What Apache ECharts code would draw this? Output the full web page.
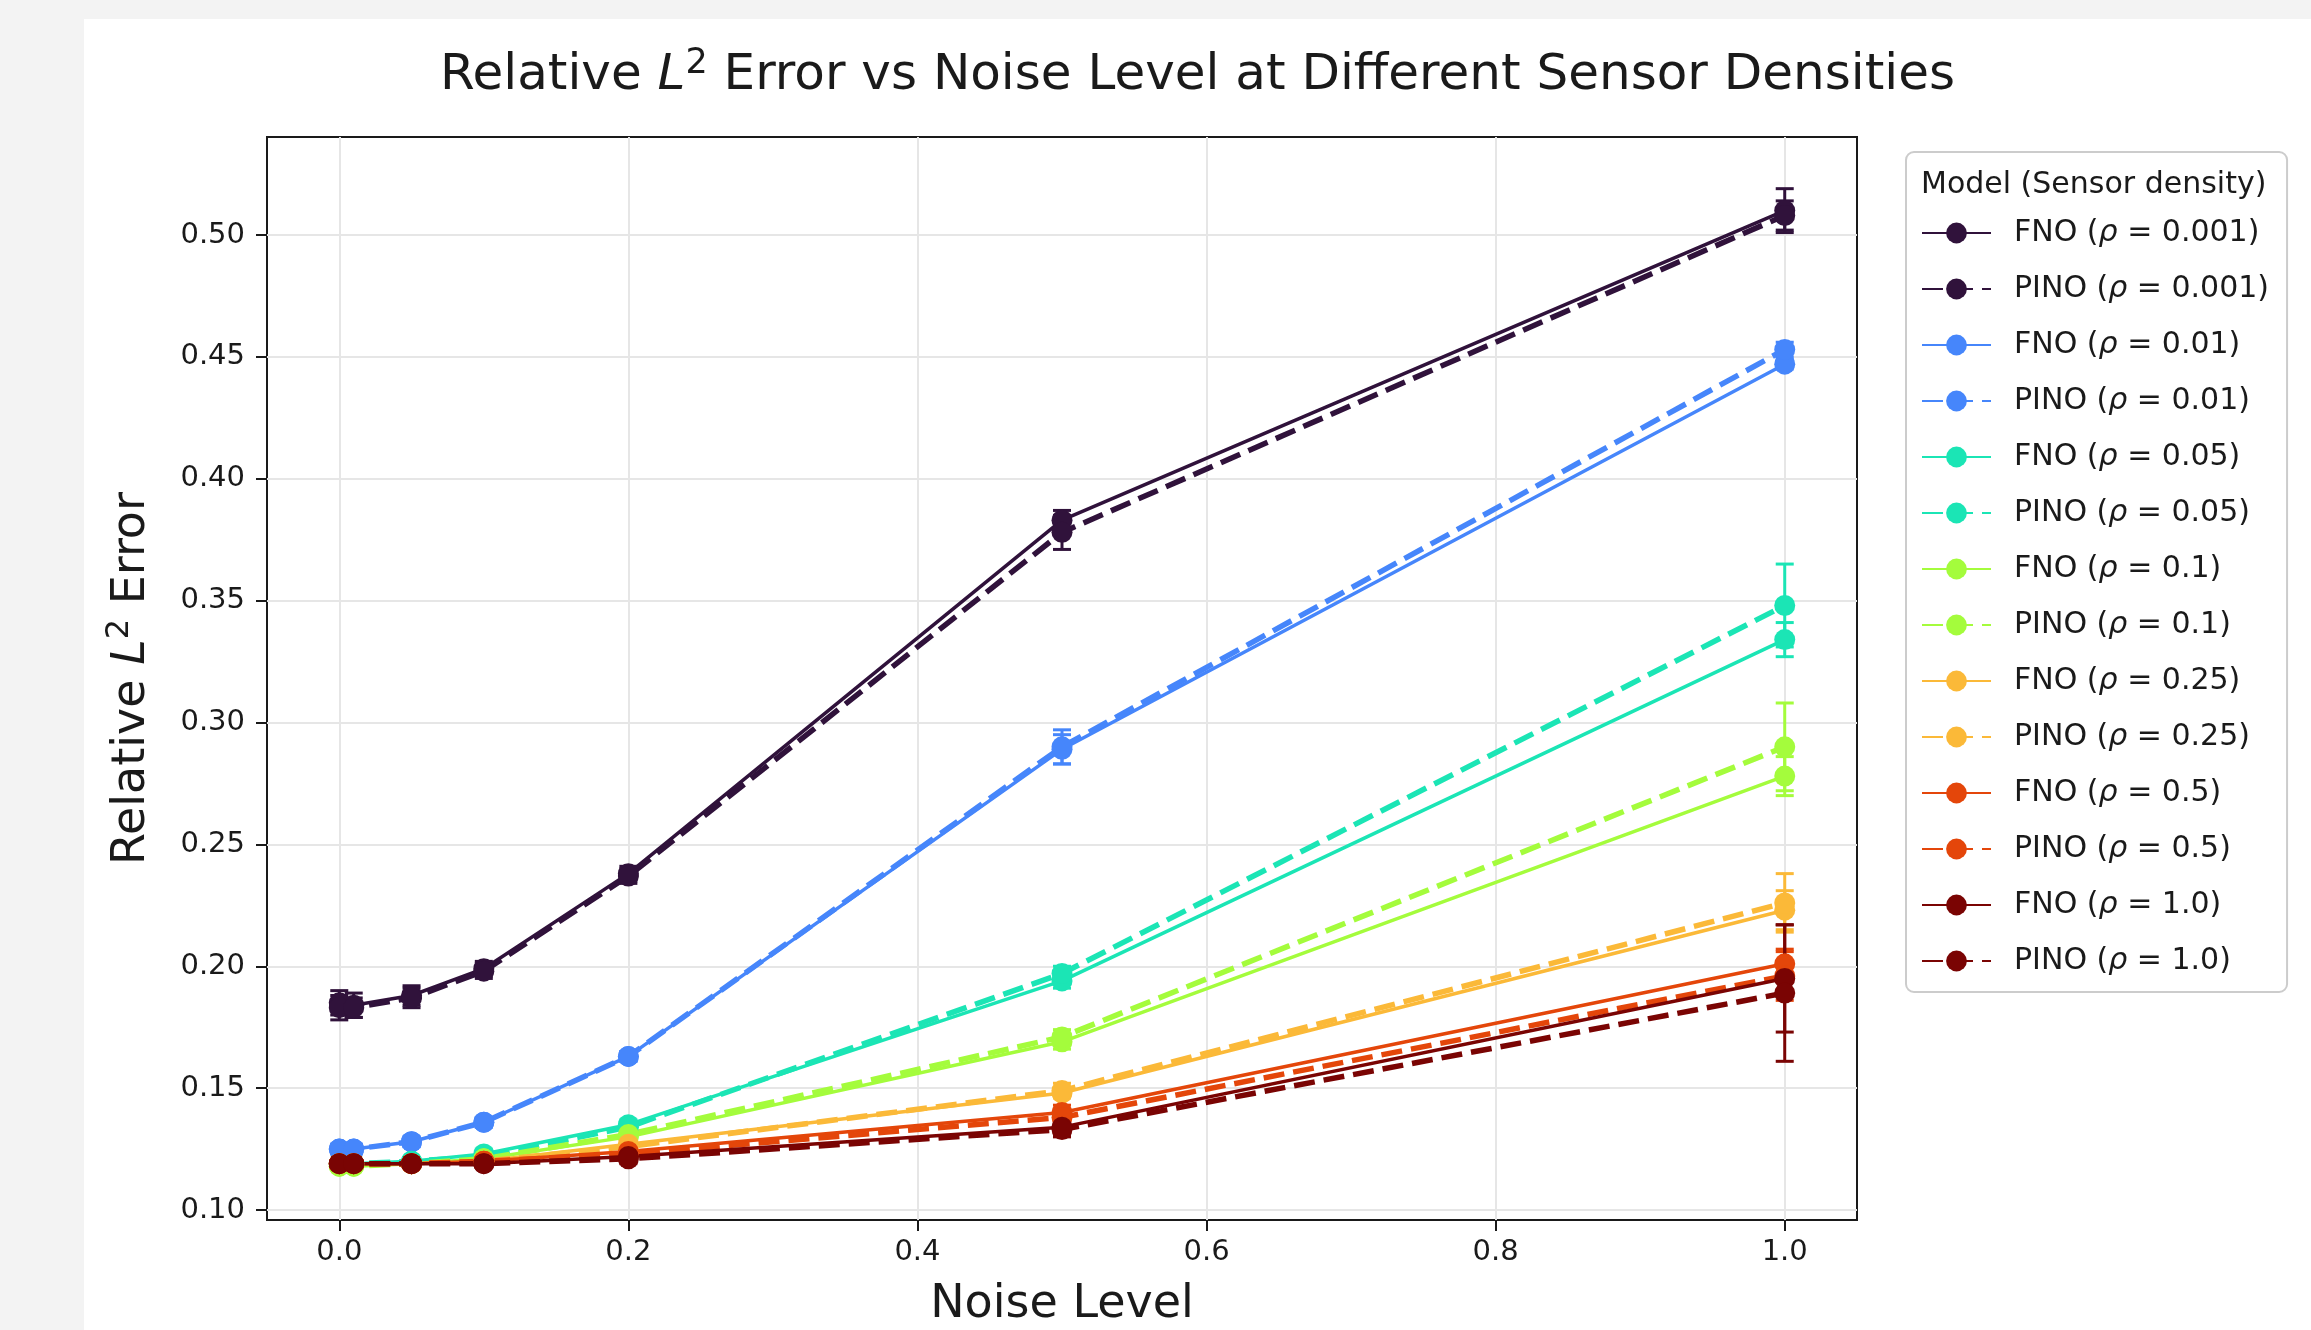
<!DOCTYPE html>
<html>
<head>
<meta charset="utf-8">
<script src="https://cdn.jsdelivr.net/npm/echarts@6/dist/echarts.min.js"></script>
<style>
  html, body { margin: 0; padding: 0; background: #f3f3f3; }
  #main { position: absolute; left: 84px; top: 19px; width: 2227px; height: 1311px; background: #fff; }
</style>
</head>
<body>
<div id="main"></div>
<script>
// noise levels on x axis
const noise = [0.0, 0.01, 0.05, 0.1, 0.2, 0.5, 1.0];
const densities = ['0.001', '0.01', '0.05', '0.1', '0.25', '0.5', '1.0'];
const colors = ['#30123b', '#4686fb', '#1be5b5', '#a4fc3c', '#fbb938', '#e4460a', '#7a0403'];
const xTicks = [0.0, 0.2, 0.4, 0.6, 0.8, 1.0];
const yTicks = [0.10, 0.15, 0.20, 0.25, 0.30, 0.35, 0.40, 0.45, 0.50];

// mean relative L2 error
const fno_0001  = [0.185, 0.184, 0.188, 0.199, 0.238, 0.383, 0.510];
const pino_0001 = [0.183, 0.183, 0.187, 0.198, 0.237, 0.378, 0.508];
const fno_001   = [0.125, 0.125, 0.128, 0.136, 0.163, 0.289, 0.447];
const pino_001  = [0.125, 0.125, 0.128, 0.136, 0.163, 0.290, 0.453];
const fno_005   = [0.119, 0.119, 0.120, 0.123, 0.135, 0.194, 0.334];
const pino_005  = [0.119, 0.119, 0.120, 0.122, 0.134, 0.197, 0.348];
const fno_01    = [0.118, 0.118, 0.119, 0.121, 0.130, 0.169, 0.278];
const pino_01   = [0.118, 0.118, 0.119, 0.121, 0.131, 0.171, 0.290];
const fno_025   = [0.119, 0.119, 0.119, 0.120, 0.127, 0.148, 0.223];
const pino_025  = [0.119, 0.119, 0.119, 0.120, 0.126, 0.149, 0.226];
const fno_05    = [0.119, 0.119, 0.119, 0.120, 0.124, 0.140, 0.201];
const pino_05   = [0.119, 0.119, 0.119, 0.120, 0.123, 0.138, 0.196];
const fno_10    = [0.119, 0.119, 0.119, 0.119, 0.122, 0.134, 0.195];
const pino_10   = [0.119, 0.119, 0.119, 0.119, 0.121, 0.133, 0.189];

// std (error bars)
const fnoErr_0001  = [0.005, 0.005, 0.004, 0.003, 0.003, 0.004, 0.009];
const pinoErr_0001 = [0.005, 0.004, 0.004, 0.003, 0.003, 0.007, 0.006];
const fnoErr_001   = [0.002, 0.002, 0.002, 0.002, 0.002, 0.006, 0.002];
const pinoErr_001  = [0.002, 0.002, 0.002, 0.002, 0.002, 0.007, 0.003];
const fnoErr_005   = [0.001, 0.001, 0.001, 0.002, 0.002, 0.003, 0.007];
const pinoErr_005  = [0.001, 0.001, 0.001, 0.002, 0.002, 0.003, 0.017];
const fnoErr_01    = [0.001, 0.001, 0.001, 0.002, 0.002, 0.003, 0.008];
const pinoErr_01   = [0.001, 0.001, 0.001, 0.002, 0.002, 0.003, 0.018];
const fnoErr_025   = [0.001, 0.001, 0.001, 0.001, 0.002, 0.002, 0.008];
const pinoErr_025  = [0.001, 0.001, 0.001, 0.001, 0.002, 0.003, 0.012];
const fnoErr_05    = [0.001, 0.001, 0.001, 0.001, 0.002, 0.003, 0.006];
const pinoErr_05   = [0.001, 0.001, 0.001, 0.001, 0.002, 0.003, 0.010];
const fnoErr_10    = [0.001, 0.001, 0.001, 0.001, 0.002, 0.003, 0.022];
const pinoErr_10   = [0.001, 0.001, 0.001, 0.001, 0.002, 0.003, 0.028];

const fnoMeans = [fno_0001, fno_001, fno_005, fno_01, fno_025, fno_05, fno_10];
const pinoMeans = [pino_0001, pino_001, pino_005, pino_01, pino_025, pino_05, pino_10];
const fnoErrs = [fnoErr_0001, fnoErr_001, fnoErr_005, fnoErr_01, fnoErr_025, fnoErr_05, fnoErr_10];
const pinoErrs = [pinoErr_0001, pinoErr_001, pinoErr_005, pinoErr_01, pinoErr_025, pinoErr_05, pinoErr_10];

const FONT = 'DejaVu Sans';
const TXT = '#1a1a1a';

const chart = echarts.init(document.getElementById('main'));

function errRender(color) {
  return function (params, api) {
    const x = api.value(0), y = api.value(1), e = api.value(2);
    const t = api.coord([x, y + e]);
    const b = api.coord([x, y - e]);
    const st = { stroke: color, lineWidth: 3 };
    return {
      type: 'group',
      children: [
        { type: 'line', shape: { x1: t[0], y1: t[1], x2: b[0], y2: b[1] }, style: st },
        { type: 'line', shape: { x1: t[0] - 9, y1: t[1], x2: t[0] + 9, y2: t[1] }, style: st },
        { type: 'line', shape: { x1: b[0] - 9, y1: b[1], x2: b[0] + 9, y2: b[1] }, style: st }
      ]
    };
  };
}

const series = [];
const legendNames = [];
densities.forEach(function (d, i) {
  [['FNO', fnoMeans[i], fnoErrs[i], 'solid', 3.5], ['PINO', pinoMeans[i], pinoErrs[i], [21, 9], 5.5]].forEach(function (m) {
    const name = m[0] + ' (ρ = ' + d + ')';
    legendNames.push(name);
    series.push({
      type: 'custom',
      name: name + ' err',
      renderItem: errRender(colors[i]),
      data: noise.map((x, k) => [x, m[1][k], m[2][k]]),
      silent: true
    });
    series.push({
      type: 'line',
      name: name,
      data: noise.map((x, k) => [x, m[1][k]]),
      symbol: 'circle',
      symbolSize: 21,
      itemStyle: { color: colors[i] },
      lineStyle: { color: colors[i], width: m[4], type: m[3] }
    });
  });
});

const option = {
  animation: false,
  title: [
    {
      text: '{a|Relative }{i|L}{s|2}{a| Error vs Noise Level at Different Sensor Densities}',
      left: 'center',
      top: 22,
      textStyle: {
        fontWeight: 'normal',
        rich: {
          a: { fontFamily: FONT, fontSize: 50, fontWeight: 'normal', color: TXT, lineHeight: 60 },
          i: { fontFamily: FONT, fontSize: 50, fontWeight: 'normal', color: TXT, fontStyle: 'italic', lineHeight: 60 },
          s: { fontFamily: FONT, fontSize: 35, fontWeight: 'normal', color: TXT, verticalAlign: 'top', lineHeight: 36 }
        }
      }
    },
    {
      text: 'Model (Sensor density)',
      left: 1832,
      top: 146,
      textStyle: { fontFamily: FONT, fontSize: 30, fontWeight: 'normal', color: TXT }
    }
  ],
  legend: {
    data: legendNames,
    orient: 'vertical',
    left: 1822,
    top: 133,
    padding: [66, 18, 16, 15],
    itemWidth: 69,
    itemHeight: 26,
    itemGap: 26,
    borderColor: '#cccccc',
    borderWidth: 2,
    borderRadius: 8,
    backgroundColor: '#ffffff',
    textStyle: {
      fontFamily: FONT, fontSize: 30, color: TXT, lineHeight: 30, padding: [0, 0, 0, 18],
      rich: { r: { fontFamily: FONT, fontSize: 30, color: TXT, fontStyle: 'italic', lineHeight: 30 } }
    },
    formatter: name => name.replace('ρ', '{r|ρ}')
  },
  grid: {
    left: 183,
    top: 118,
    width: 1590,
    height: 1083,
    show: true,
    borderColor: '#1a1a1a',
    borderWidth: 2,
    containLabel: false,
    outerBoundsMode: 'none'
  },
  xAxis: {
    type: 'value',
    min: -0.05,
    max: 1.05,
    name: 'Noise Level',
    nameLocation: 'middle',
    nameGap: 62,
    nameTextStyle: { fontFamily: FONT, fontSize: 46, color: TXT },
    axisLine: { show: false, onZero: false },
    axisTick: { show: true, inside: false, length: 11, lineStyle: { color: '#1a1a1a', width: 2 }, customValues: xTicks },
    axisLabel: {
      customValues: xTicks,
      margin: 18,
      fontFamily: FONT, fontSize: 29, color: TXT,
      formatter: v => v.toFixed(1)
    },
    splitLine: { show: true, lineStyle: { color: '#e6e6e6', width: 2 } }
  },
  yAxis: {
    type: 'value',
    min: 0.0959,
    max: 0.5402,
    name: '{a|Relative }{i|L}{s|2}{a| Error}',
    nameLocation: 'middle',
    nameGap: 107,
    nameTextStyle: {
      rich: {
        a: { fontFamily: FONT, fontSize: 46, color: TXT, lineHeight: 56 },
        i: { fontFamily: FONT, fontSize: 46, color: TXT, fontStyle: 'italic', lineHeight: 56 },
        s: { fontFamily: FONT, fontSize: 32, color: TXT, verticalAlign: 'top', lineHeight: 34 }
      }
    },
    axisLine: { show: false, onZero: false },
    axisTick: { show: true, inside: false, length: 11, lineStyle: { color: '#1a1a1a', width: 2 }, customValues: yTicks },
    axisLabel: {
      customValues: yTicks,
      margin: 22,
      fontFamily: FONT, fontSize: 29, color: TXT,
      formatter: v => v.toFixed(2)
    },
    splitLine: { show: true, lineStyle: { color: '#e6e6e6', width: 2 } }
  },
  series: series
};

chart.setOption(option);
</script>
</body>
</html>
